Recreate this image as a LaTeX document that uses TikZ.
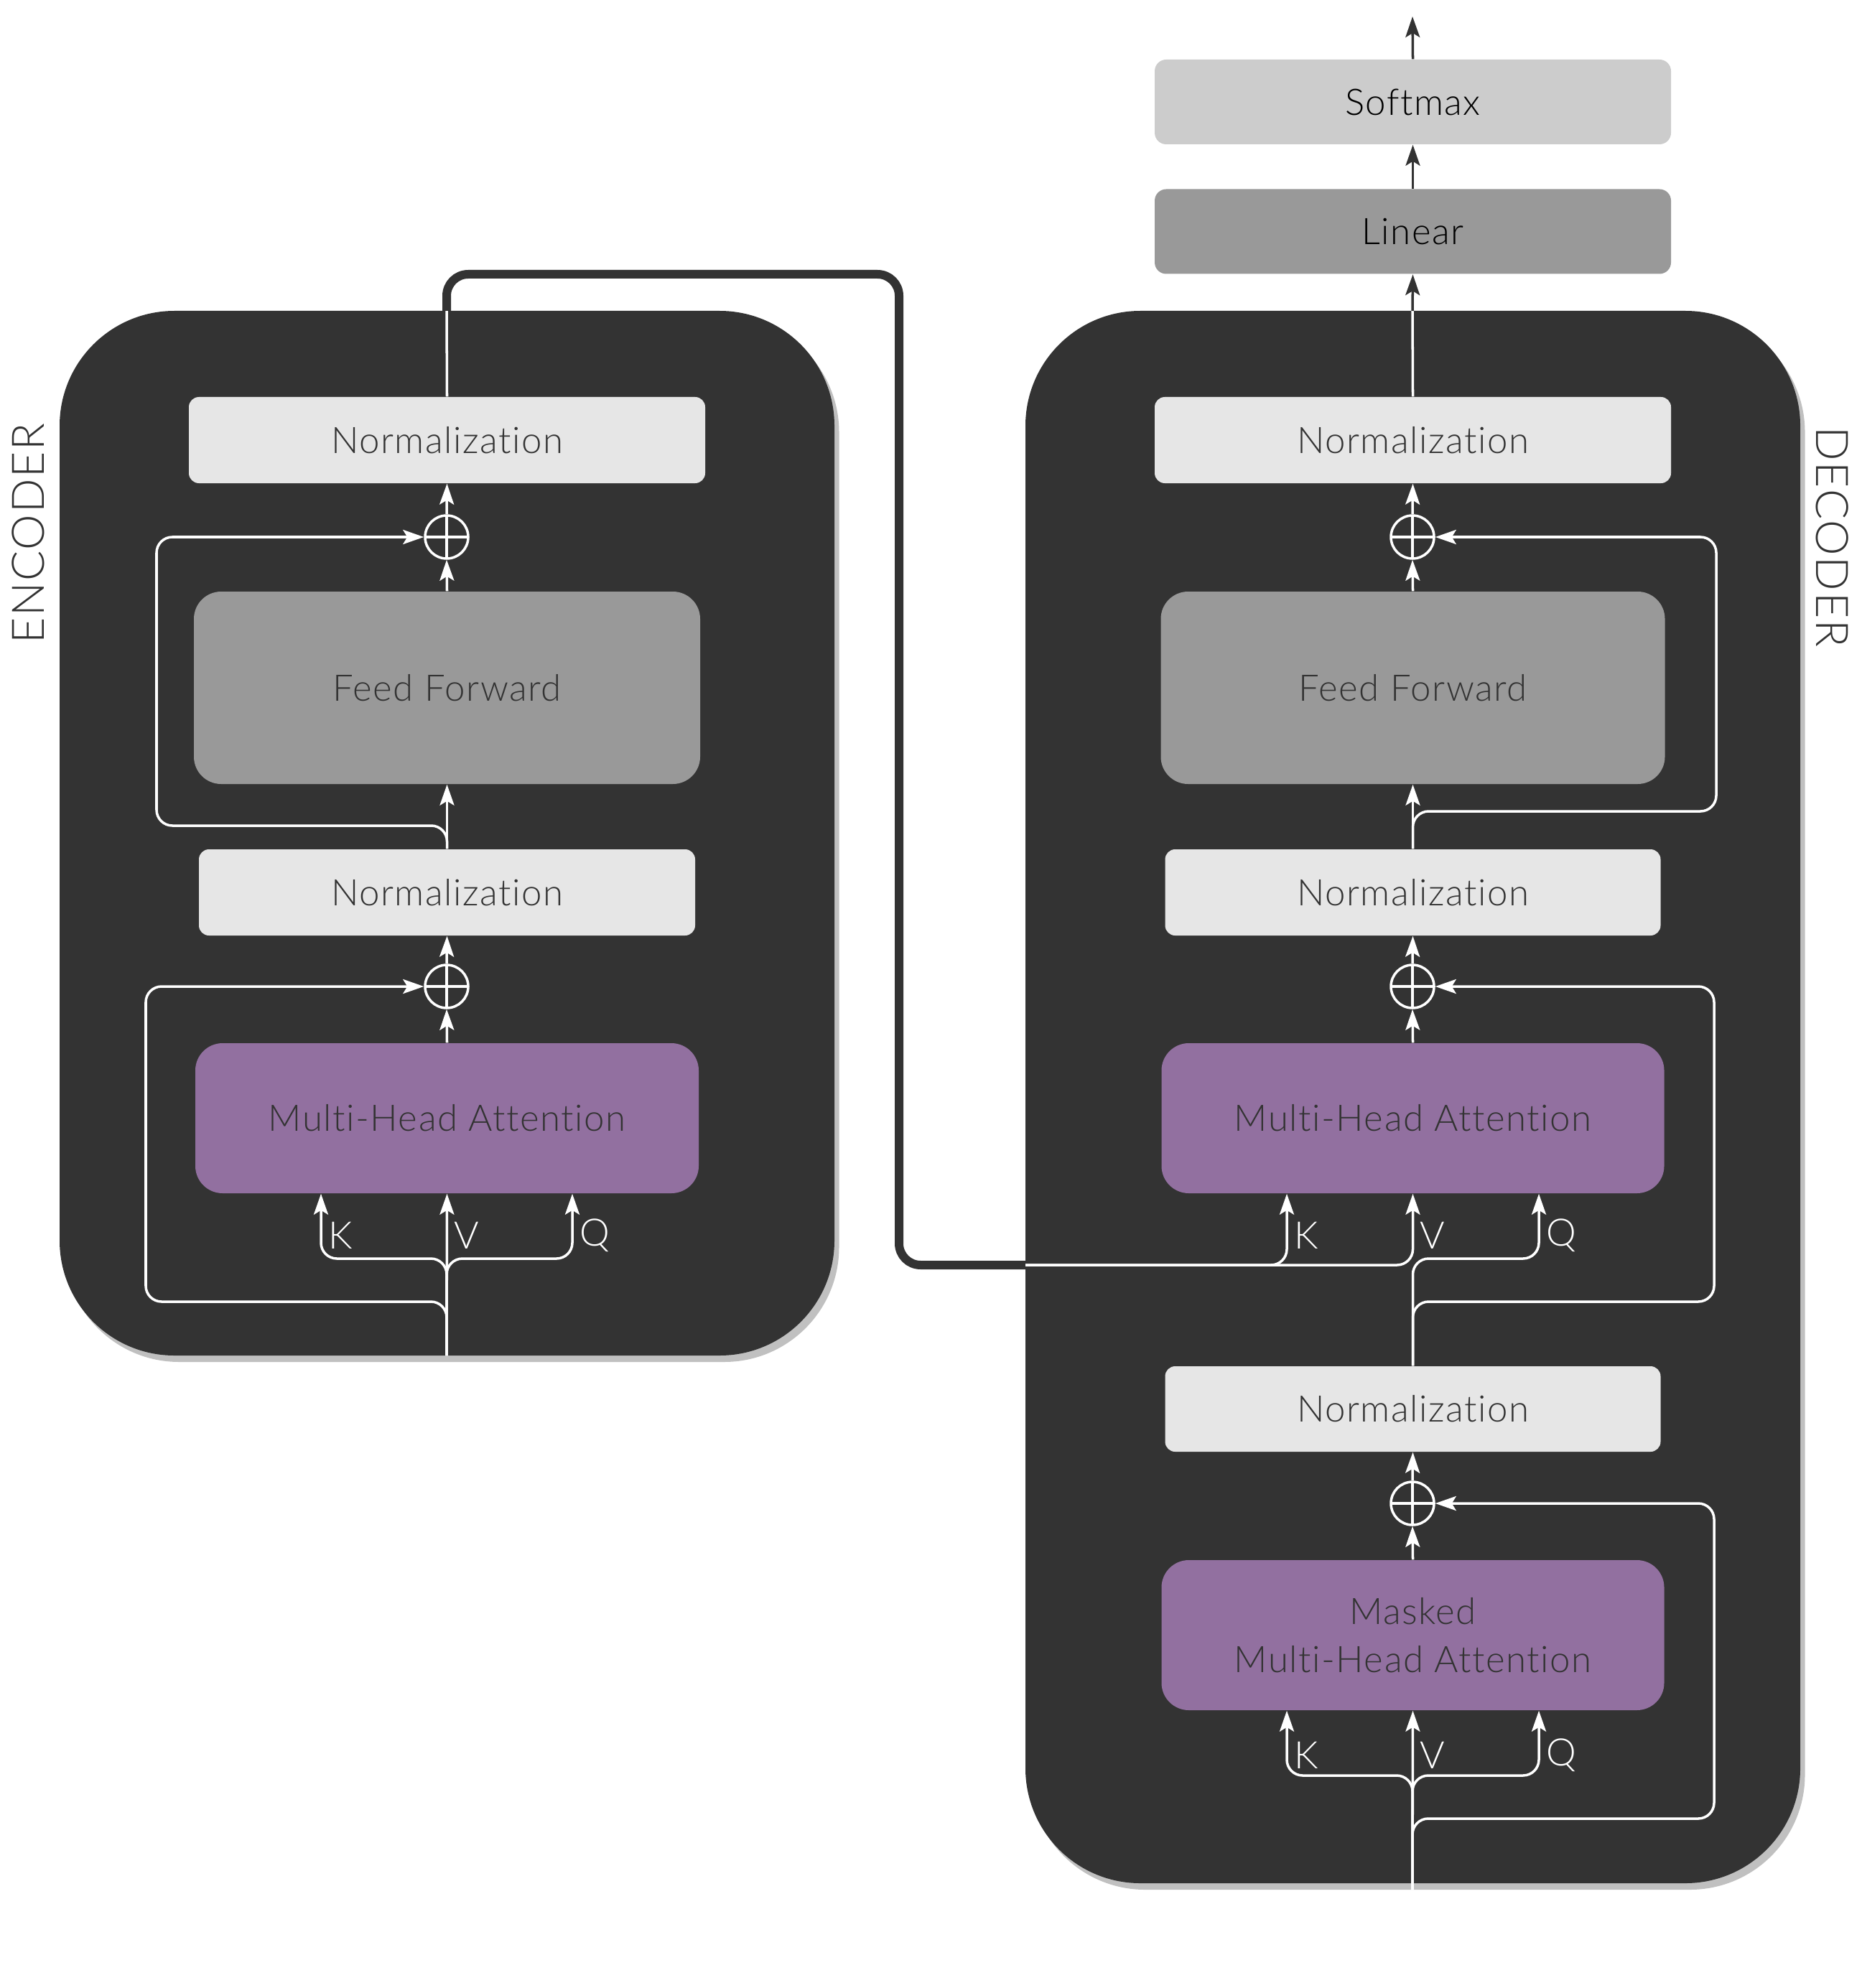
\documentclass[tikz,border=0pt]{standalone}
\usepackage{fontspec}
\setmainfont{Lato}[UprightFont={* Light}, Ligatures={NoCommon}, LetterSpace=3]
\usetikzlibrary{arrows.meta,shadows}

\definecolor{panelgray}{HTML}{333333}
\definecolor{shadowgray}{HTML}{C0C0C0}
\definecolor{normfill}{HTML}{E6E6E6}
\definecolor{fffill}{HTML}{999999}
\definecolor{softfill}{HTML}{CCCCCC}
\definecolor{attnfill}{HTML}{9270A0}

\tikzset{
  panel/.style={rectangle, fill=panelgray, rounded corners=1.6cm,
    drop shadow={shadow xshift=.065cm, shadow yshift=-.09cm, fill=shadowgray, opacity=1}},
  block/.style={rectangle, inner sep=0, align=center, text=panelgray,
    font=\fontsize{14.5}{19}\selectfont},
  norm/.style={block, fill=normfill, rounded corners=.14cm, minimum height=1.2cm},
  ff/.style={block, fill=fffill, rounded corners=.38cm, minimum height=2.68cm},
  attn/.style={block, fill=attnfill, rounded corners=.38cm, minimum height=2.09cm},
  head/.style={block, text=black, rounded corners=.16cm, minimum width=7.19cm, minimum height=1.18cm},
  addop/.style={circle, draw=white, line width=1pt, minimum size=.6cm, inner sep=0,
    path picture={\draw[white, line width=1pt]
      (path picture bounding box.north) -- (path picture bounding box.south)
      (path picture bounding box.west) -- (path picture bounding box.east);}},
  kvq/.style={inner sep=0, anchor=west, text=white, font=\fontsize{15}{18}\selectfont},
  side/.style={inner sep=0, text=panelgray, font=\fontsize{17.8}{22}\selectfont},
  wire/.style={white, line width=1pt, rounded corners=.22cm},
  tip/.style={-{Stealth[length=.29cm, width=.2cm, inset=.06cm]}},
  bus/.style={panelgray, line width=.12cm, rounded corners=.3cm},
  darrow/.style={panelgray, line width=1pt, -{Stealth[length=.29cm, width=.2cm, inset=.06cm]}}
}

\begin{document}
\begin{tikzpicture}
\useasboundingbox (0,0) rectangle (25.92,-27.69);

% panels
\node (encoder) at (6.225,-11.605) [panel, minimum width=10.79cm, minimum height=14.55cm] {};
\node (decoder) at (19.675,-15.28) [panel, minimum width=10.79cm, minimum height=21.9cm] {};
\node (enclabel) at (0.39,-7.43) [side, rotate=90] {ENCODER};
\node (declabel) at (25.52,-7.48) [side, rotate=-90] {DECODER};

% encoder
\node (encnorm1) at (6.225,-6.13) [norm, minimum width=7.19cm] {Normalization};
\node (encadd1) at (6.22,-7.48) [addop] {};
\node (encff) at (6.225,-9.58) [ff, minimum width=7.05cm] {Feed Forward};
\node (encnorm2) at (6.225,-12.43) [norm, minimum width=6.91cm] {Normalization};
\node (encadd2) at (6.22,-13.74) [addop] {};
\node (encmha) at (6.225,-15.575) [attn, minimum width=7.01cm] {Multi-Head Attention};

% decoder
\node (softmax) at (19.675,-1.42) [head, fill=softfill] {Softmax};
\node (linear) at (19.675,-3.225) [head, fill=fffill] {Linear};
\node (decnorm1) at (19.675,-6.13) [norm, minimum width=7.19cm] {Normalization};
\node (decadd1) at (19.67,-7.48) [addop] {};
\node (decff) at (19.675,-9.58) [ff, minimum width=7.02cm] {Feed Forward};
\node (decnorm2) at (19.675,-12.43) [norm, minimum width=6.9cm] {Normalization};
\node (decadd2) at (19.67,-13.74) [addop] {};
\node (decmha) at (19.675,-15.575) [attn, minimum width=7.0cm] {Multi-Head Attention};
\node (decnorm3) at (19.675,-19.625) [norm, minimum width=6.9cm, minimum height=1.19cm] {Normalization};
\node (decadd3) at (19.67,-20.94) [addop] {};
\node (decmmha) at (19.675,-22.775) [attn, minimum width=7.0cm] {Masked\\Multi-Head Attention};

% bends
\coordinate (encin) at (6.22,-18.88);
\coordinate (encK) at (4.47,-17.53);
\coordinate (encQ) at (7.97,-17.53);
\coordinate (encres2) at (2.03,-18.13);
\coordinate (encres1) at (2.18,-11.5);
\coordinate (enctop) at (6.22,-4.33);
\coordinate (bridge) at (12.52,-3.82);
\coordinate (memin) at (14.28,-17.62);
\coordinate (decK) at (17.92,-17.62);
\coordinate (decQ) at (21.43,-17.53);
\coordinate (decres2) at (23.87,-18.13);
\coordinate (decres1) at (23.9,-11.3);
\coordinate (dectop) at (19.67,-4.33);
\coordinate (decin) at (19.67,-26.32);
\coordinate (decK2) at (17.92,-24.73);
\coordinate (decQ2) at (21.43,-24.73);
\coordinate (decres3) at (23.87,-25.33);
\coordinate (output) at (19.67,-0.23);

% encoder wires
\draw[wire, tip] (encin) -- (encmha.south);
\draw[wire, tip] (encin) |- (encK) -- (encK |- encmha.south);
\draw[wire, tip] (encin) |- (encQ) -- (encQ |- encmha.south);
\draw[wire, tip] (encin) |- (encres2) |- (encadd2.west);
\draw[wire, tip] (encmha.north) -- (encadd2.south);
\draw[wire, tip] (encadd2.north) -- (encnorm2.south);
\draw[wire, tip] (encnorm2.north) -- (encff.south);
\draw[wire, tip] (encnorm2.north) |- (encres1) |- (encadd1.west);
\draw[wire, tip] (encff.north) -- (encadd1.south);
\draw[wire, tip] (encadd1.north) -- (encnorm1.south);
\draw[wire] (encnorm1.north) -- (enctop);

% encoder to decoder
\draw[bus] (enctop) |- (bridge) |- (memin);
\draw[wire, tip] (memin) -| (decmha.south);
\draw[wire, tip] (memin) -| (decK |- decmha.south);

% decoder wires
\draw[wire, tip] (decin) -- (decmmha.south);
\draw[wire, tip] (decin) |- (decK2) -- (decK2 |- decmmha.south);
\draw[wire, tip] (decin) |- (decQ2) -- (decQ2 |- decmmha.south);
\draw[wire, tip] (decin) |- (decres3) |- (decadd3.east);
\draw[wire, tip] (decmmha.north) -- (decadd3.south);
\draw[wire, tip] (decadd3.north) -- (decnorm3.south);
\draw[wire, tip] (decnorm3.north) |- (decQ) -- (decQ |- decmha.south);
\draw[wire, tip] (decnorm3.north) |- (decres2) |- (decadd2.east);
\draw[wire, tip] (decmha.north) -- (decadd2.south);
\draw[wire, tip] (decadd2.north) -- (decnorm2.south);
\draw[wire, tip] (decnorm2.north) -- (decff.south);
\draw[wire, tip] (decnorm2.north) |- (decres1) |- (decadd1.east);
\draw[wire, tip] (decff.north) -- (decadd1.south);
\draw[wire, tip] (decadd1.north) -- (decnorm1.south);
\draw[wire] (decnorm1.north) -- (dectop);
\draw[darrow] (dectop) -- (linear.south);
\draw[darrow] (linear.north) -- (softmax.south);
\draw[darrow] (softmax.north) -- (output);

% K V Q labels
\node (encKl) at (4.57,-17.21) [kvq] {K};
\node (encVl) at (6.32,-17.21) [kvq] {V};
\node (encQl) at (8.07,-17.21) [kvq] {Q};
\node (decKl) at (18.02,-17.21) [kvq] {K};
\node (decVl) at (19.77,-17.21) [kvq] {V};
\node (decQl) at (21.53,-17.21) [kvq] {Q};
\node (decKl2) at (18.02,-24.45) [kvq] {K};
\node (decVl2) at (19.77,-24.45) [kvq] {V};
\node (decQl2) at (21.53,-24.45) [kvq] {Q};
\end{tikzpicture}
\end{document}
